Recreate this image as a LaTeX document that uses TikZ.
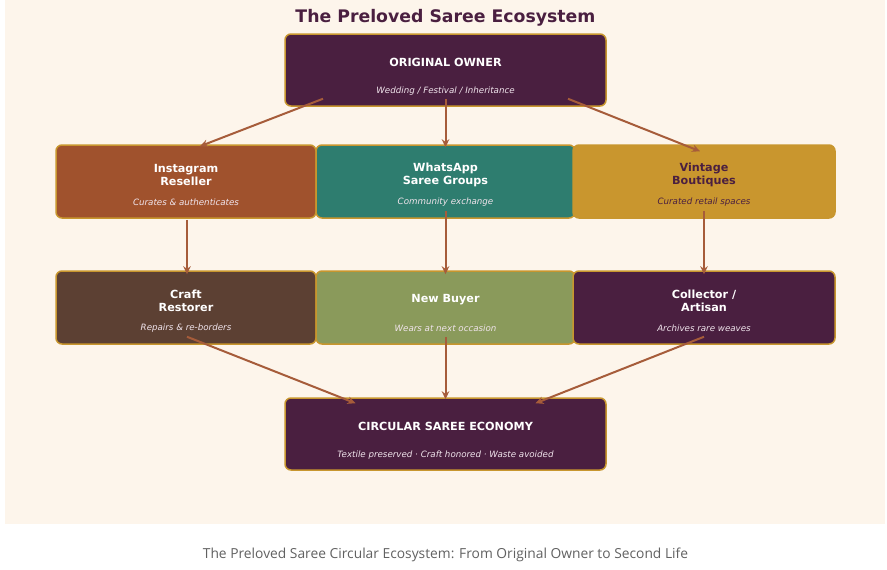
\documentclass[tikz,border=0pt]{standalone}
\usepackage{fontspec}
\setmainfont{DejaVu Sans}
\newfontfamily\capfont{Open Sans}
\usetikzlibrary{arrows.meta}
\definecolor{bgcream}{HTML}{FDF5EB}
\definecolor{plum}{HTML}{4A1F40}
\definecolor{goldb}{HTML}{C8962E}
\definecolor{sienna}{HTML}{A0522D}
\definecolor{tealw}{HTML}{2E7D6F}
\definecolor{mustard}{HTML}{C9962E}
\definecolor{brownc}{HTML}{5C4033}
\definecolor{olive}{HTML}{8A9A5B}
\definecolor{arrowc}{HTML}{A65C3A}
\definecolor{subw}{HTML}{F0E4EC}
\tikzset{
  boxn/.style={draw=goldb, line width=1.5pt, rounded corners=6pt, inner sep=0pt},
  ttl/.style={font=\fontsize{11.2}{13}\selectfont\bfseries, text=white, align=center, inner sep=0pt},
  sub/.style={font=\fontsize{8.7}{10}\selectfont\itshape, text=subw, inner sep=0pt},
  arr/.style={draw=arrowc, line width=2pt, -{Stealth[length=8pt,width=7.5pt]}},
}
\begin{document}
\begin{tikzpicture}[x=1pt,y=-1pt]
\useasboundingbox (0,0) rectangle (887,570);
\fill[white] (0,0) rectangle (887,570);
\fill[bgcream] (5,0) rectangle (885,524);
\node[font=\fontsize{17.3}{20}\selectfont\bfseries, text=plum] (title) at (445.5,18) {The Preloved Saree Ecosystem};

% boxes
\node[boxn, fill=plum, minimum width=321pt, minimum height=72pt] (owner) at (445.5,70) {};
\node[boxn, fill=sienna, minimum width=260pt, minimum height=73pt] (ig) at (186,181.5) {};
\node[boxn, fill=tealw, minimum width=259pt, minimum height=73pt] (wa) at (445.5,181.5) {};
\node[boxn, fill=mustard, minimum width=262pt, minimum height=73pt] (vb) at (704,181.5) {};
\node[boxn, fill=brownc, minimum width=260pt, minimum height=73pt] (cr) at (186,307.5) {};
\node[boxn, fill=olive, minimum width=259pt, minimum height=73pt] (nb) at (445.5,307.5) {};
\node[boxn, fill=plum, minimum width=262pt, minimum height=73pt] (co) at (704,307.5) {};
\node[boxn, fill=plum, minimum width=321pt, minimum height=72pt] (eco) at (445.5,434) {};

% texts
\node[ttl] (ownerT) at (445.5,62) {ORIGINAL OWNER};
\node[sub] (ownerS) at (445.5,91) {Wedding / Festival / Inheritance};
\node[ttl] (igT) at (186,174.5) {Instagram\\Reseller};
\node[sub] (igS) at (186,202) {Curates \& authenticates};
\node[ttl] (waT) at (445.5,174.5) {WhatsApp\\Saree Groups};
\node[sub] (waS) at (445.5,202) {Community exchange};
\node[ttl, text=plum] (vbT) at (704,174.5) {Vintage\\Boutiques};
\node[sub, text=plum] (vbS) at (704,202) {Curated retail spaces};
\node[ttl] (crT) at (186,300.5) {Craft\\Restorer};
\node[sub] (crS) at (186,328) {Repairs \& re-borders};
\node[ttl] (nbT) at (445.5,300) {New Buyer};
\node[sub] (nbS) at (445.5,328) {Wears at next occasion};
\node[ttl] (coT) at (704,300.5) {Collector /\\Artisan};
\node[sub] (coS) at (704,328) {Archives rare weaves};
\node[ttl] (ecoT) at (445.5,426) {CIRCULAR SAREE ECONOMY};
\node[sub] (ecoS) at (445.5,455) {Textile preserved · Craft honored · Waste avoided};

% arrows
\draw[arr] ([xshift=-122.5pt,yshift=8pt]owner.south) -- ([xshift=14pt,yshift=-2pt]ig.north);
\draw[arr] ([yshift=8pt]owner.south) -- ([yshift=-3pt]wa.north);
\draw[arr] ([xshift=122.5pt,yshift=8pt]owner.south) -- ([xshift=-4pt,yshift=-7pt]vb.north);
\draw[arr] ([xshift=1pt,yshift=-1pt]ig.south) -- ([xshift=1pt,yshift=-4pt]cr.north);
\draw[arr] ([yshift=8pt]wa.south) -- ([yshift=-4pt]nb.north);
\draw[arr] ([yshift=8pt]vb.south) -- ([yshift=-4pt]co.north);
\draw[arr] ([xshift=1pt,yshift=8pt]cr.south) -- ([xshift=-90pt,yshift=-6pt]eco.north);
\draw[arr] ([yshift=8pt]nb.south) -- ([yshift=-2pt]eco.north);
\draw[arr] ([yshift=8pt]co.south) -- ([xshift=90pt,yshift=-6pt]eco.north);

\node[font=\capfont\fontsize{13.8}{16}\selectfont, text=black!62] (cap) at (445.5,555) {The Preloved Saree Circular Ecosystem: From Original Owner to Second Life};
\end{tikzpicture}
\end{document}
